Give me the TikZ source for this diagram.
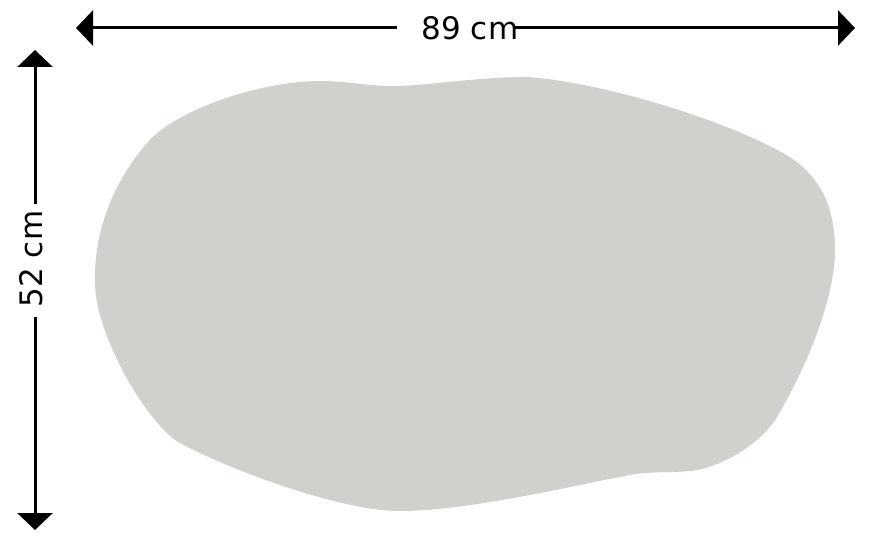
\documentclass[tikz,border=0pt]{standalone}
\usepackage{fontspec}
\setmainfont{DejaVu Sans}
\usetikzlibrary{arrows.meta}
\definecolor{slab}{RGB}{209,208,204}
\begin{document}
\begin{tikzpicture}[x=1pt,y=-1pt,
  dimline/.style={line width=3pt,black},
  dimtip/.style={-{Triangle[length=17pt,width=35pt]}},
  dimlabel/.style={font=\fontsize{31}{37}\selectfont,inner sep=0pt}]
\useasboundingbox (0,0) rectangle (870,540);
% slab
\fill[slab] (320,81)
  .. controls (350,81) and (370,87) .. (400,86)
  .. controls (430,85) and (480,77) .. (527,77)
  .. controls (600,82) and (720,118) .. (783,153)
  .. controls (815,171) and (835,200) .. (835,250)
  .. controls (835,300) and (805,370) .. (777,417)
  .. controls (760,445) and (720,468) .. (690,471)
  .. controls (670,473) and (645,471) .. (625,476)
  .. controls (580,484) and (470,511) .. (400,511)
  .. controls (340,511) and (230,470) .. (180,443)
  .. controls (150,427) and (97,340) .. (95,285)
  .. controls (93,230) and (115,180) .. (147,143)
  .. controls (175,110) and (260,81) .. (320,81) -- cycle;
% horizontal dimension
\node[dimlabel] (w) at (470,28) {89 cm};
\coordinate (wl) at (76,28);
\coordinate (wle) at (397,28);
\coordinate (wrs) at (513,28);
\coordinate (wr) at (855,28);
\draw[dimline,dimtip] (wle) -- (wl);
\draw[dimline,dimtip] (wrs) -- (wr);
% vertical dimension
\node[dimlabel,rotate=90] (h) at (31,259) {52 cm};
\coordinate (ht) at (35,50);
\coordinate (hte) at (35,204);
\coordinate (hbs) at (35,317);
\coordinate (hb) at (35,530);
\draw[dimline,dimtip] (hte) -- (ht);
\draw[dimline,dimtip] (hbs) -- (hb);
\end{tikzpicture}
\end{document}
